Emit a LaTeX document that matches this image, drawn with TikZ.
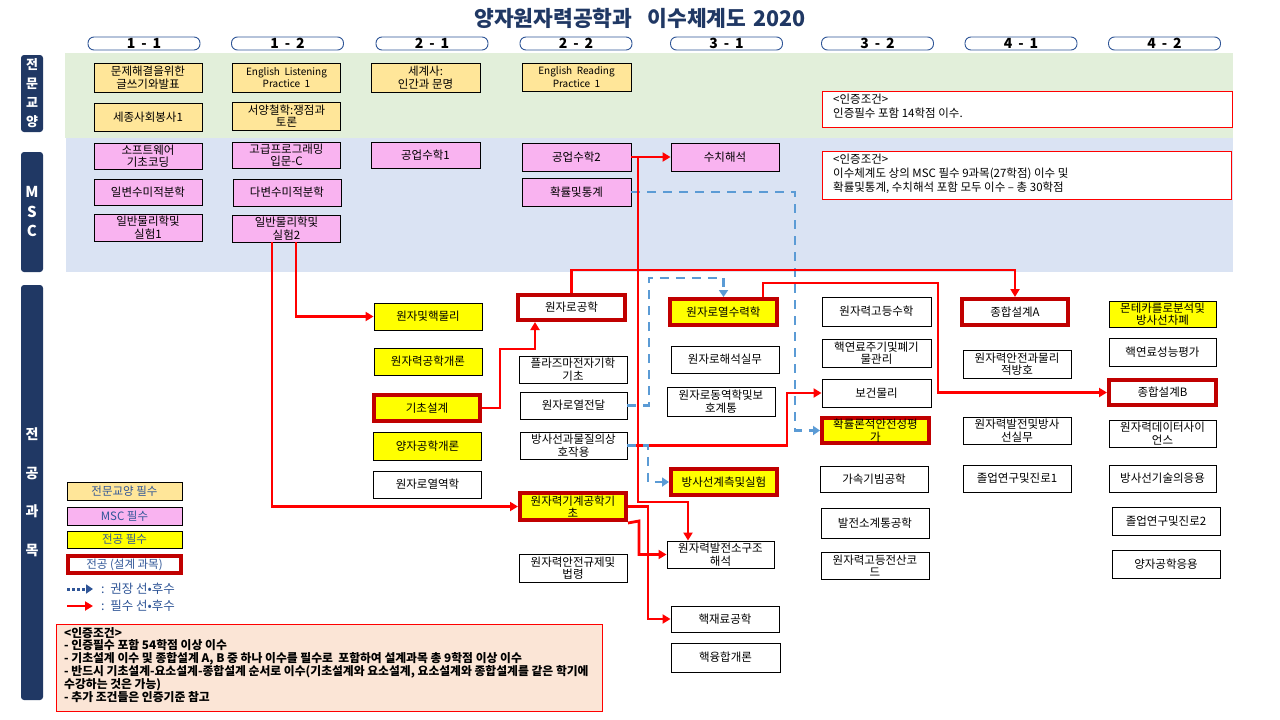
\documentclass[tikz,border=0pt]{standalone}
\usepackage{fontspec}
\setmainfont{Noto Sans CJK KR}
\usetikzlibrary{arrows.meta}
\definecolor{navy}{HTML}{203864}
\definecolor{pillc}{HTML}{2F5597}
\definecolor{legblue}{HTML}{2F5597}
\definecolor{cgreen}{HTML}{E2EFDA}
\definecolor{cblue}{HTML}{DAE3F3}
\definecolor{cor}{HTML}{FFE699}
\definecolor{cpink}{HTML}{F9B3F0}
\definecolor{cyel}{HTML}{FFFF00}
\definecolor{dred}{HTML}{C00000}
\definecolor{ared}{HTML}{FF0000}
\definecolor{dblue}{HTML}{5B9BD5}
\definecolor{notef}{HTML}{FBE5D6}
\tikzset{
 box/.style={draw=black, line width=0.9pt, minimum width=108pt, minimum height=27pt, inner sep=0pt, align=center, font=\fontsize{11.5}{12.5}\selectfont},
 dbox/.style={box, draw=dred, line width=4pt, minimum width=106pt, minimum height=26pt},
 lab/.style={fill=navy, rounded corners=3pt, minimum width=22pt, inner sep=0pt, text=white, align=center},
 pill/.style={draw=pillc, line width=0.9pt, fill=white, rounded corners=6pt, minimum width=112pt, minimum height=13pt, inner sep=0pt, text height=10pt, text depth=0pt, font=\fontsize{14}{14}\selectfont\bfseries},
 reqarr/.style={draw=ared, line width=2.8pt, -{Triangle[length=8pt,width=9pt]}},
 recarr/.style={draw=dblue, line width=2.4pt, dash pattern=on 9pt off 7pt, -{Triangle[length=7pt,width=9pt]}},
 cond/.style={draw=ared, line width=0.9pt, fill=white, anchor=north west, inner sep=0pt},
 condtxt/.style={anchor=north west, align=left, inner sep=0pt, font=\fontsize{11.5}{14}\selectfont},
 legtxt/.style={text=legblue, font=\fontsize{11.5}{12}\selectfont},
 engtxt/.style={font=\fontsize{10}{12.5}\selectfont}
}
\begin{document}
\begin{tikzpicture}[x=1pt,y=-1pt]
\useasboundingbox (0,0) rectangle (1280,720);
\fill[white] (0,0) rectangle (1280,720);
% bands
\fill[cgreen] (65,53) rectangle (1233,138);
\fill[cblue] (66,138) rectangle (1233,272);
% title
\node[text=navy, font=\fontsize{21.5}{23}\selectfont\bfseries, inner sep=0pt] (title) at (640,18) {양자원자력공학과\hspace{15pt}이수체계도\hspace{7pt}2020};
% semester pills
\node[pill] (h11) at (144,43.5) {1\hspace{6pt}-\hspace{6pt}1};
\node[pill] (h12) at (287.5,43.5) {1\hspace{6pt}-\hspace{6pt}2};
\node[pill] (h21) at (432,43.5) {2\hspace{6pt}-\hspace{6pt}1};
\node[pill] (h22) at (576,43.5) {2\hspace{6pt}-\hspace{6pt}2};
\node[pill] (h31) at (726.5,43.5) {3\hspace{6pt}-\hspace{6pt}1};
\node[pill] (h32) at (877.5,43.5) {3\hspace{6pt}-\hspace{6pt}2};
\node[pill] (h41) at (1021,43.5) {4\hspace{6pt}-\hspace{6pt}1};
\node[pill] (h42) at (1164.5,43.5) {4\hspace{6pt}-\hspace{6pt}2};
% side labels
\node[lab, minimum height=77pt, font=\fontsize{13}{19}\selectfont\bfseries] (s1) at (32,93.5) {전\\문\\교\\양};
\node[lab, minimum height=120pt, font=\fontsize{15}{19.5}\selectfont\bfseries] (s2) at (32,212) {M\\S\\C};
\node[lab, minimum height=415pt, font=\fontsize{14}{38.5}\selectfont\bfseries] (s3) at (32,492.5) {전\\공\\과\\목};
% general education
\node[box, fill=cor, minimum height=29pt] (g1) at (148,77.5) {문제해결을위한\\글쓰기와발표};
\node[box, fill=cor, minimum height=28pt] (g2) at (148,117) {세종사회봉사1};
\node[box, fill=cor, minimum height=29pt, engtxt] (g3) at (286.5,77.5) {English\ \ Listening\\Practice\ \ 1};
\node[box, fill=cor, minimum height=28pt] (g4) at (286.5,116) {서양철학:쟁점과\\토론};
\node[box, fill=cor, minimum width=109pt, minimum height=29pt] (g5) at (425.5,77.5) {세계사:\\인간과 문명};
\node[box, fill=cor, minimum width=109pt, minimum height=28pt, engtxt] (g6) at (576.5,77) {English\ \ Reading\\Practice\ \ 1};
% MSC
\node[box, fill=cpink, minimum height=26pt] (m1) at (148,156) {소프트웨어\\기초코딩};
\node[box, fill=cpink, minimum height=26pt] (m2) at (148,192) {일변수미적분학};
\node[box, fill=cpink] (m3) at (148,227.5) {일반물리학및\\실험1};
\node[box, fill=cpink, minimum height=26pt] (m4) at (286.5,155) {고급프로그래밍\\입문-C};
\node[box, fill=cpink] (m5) at (287,192.5) {다변수미적분학};
\node[box, fill=cpink] (m6) at (286.5,228.5) {일반물리학및\\실험2};
\node[box, fill=cpink, minimum width=109pt, minimum height=26pt] (m7) at (425.5,155) {공업수학1};
\node[box, fill=cpink, minimum width=109pt, minimum height=28pt] (gs2) at (576.5,157) {공업수학2};
\node[box, fill=cpink, minimum width=109pt, minimum height=28pt] (pr) at (576.5,192) {확률및통계};
\node[box, fill=cpink, minimum height=28pt] (sc) at (725,157) {수치해석};
% condition notes
\node[cond, minimum width=410pt, minimum height=36pt] (n1) at (822,91) {};
\node[condtxt] (n1t) at (833,94) {<인증조건>\\인증필수 포함 14학점 이수.};
\node[cond, minimum width=409pt, minimum height=48pt] (n2) at (822,151) {};
\node[condtxt] (n2t) at (833,154) {<인증조건>\\이수체계도 상의 MSC 필수 9과목(27학점) 이수 및\\확률및통계, 수치해석 포함 모두 이수 – 총 30학점};
% major 2-1
\node[box, fill=cyel] (a1) at (428,316.5) {원자및핵물리};
\node[box, fill=cyel] (a2) at (428,361.5) {원자력공학개론};
\node[dbox, fill=cyel] (a3) at (427,408) {기초설계};
\node[box, fill=cyel, minimum height=28pt] (a4) at (427.5,446) {양자공학개론};
\node[box] (a5) at (427.5,484.5) {원자로열역학};
% 2-2
\node[dbox, minimum height=25pt, minimum width=107pt] (b1) at (571.5,307.5) {원자로공학};
\node[box] (b2) at (573,369.5) {플라즈마전자기학\\기초};
\node[box, minimum width=107pt] (b3) at (573.5,405.5) {원자로열전달};
\node[box, minimum width=107pt] (b4) at (573.5,445.5) {방사선과물질의상\\호작용};
\node[dbox, fill=cyel, minimum height=27pt] (b5) at (573,506.5) {원자력기계공학기\\초};
\node[box, minimum height=28pt] (b6) at (573,568) {원자력안전규제및\\법령};
% 3-1
\node[dbox, fill=cyel, minimum width=107pt] (c1) at (723.5,312) {원자로열수력학};
\node[box] (c2) at (725,359.5) {원자로해석실무};
\node[box, minimum height=29pt] (c3) at (721,401.5) {원자로동역학및보\\호계통};
\node[dbox, fill=cyel] (c4) at (724,482) {방사선계측및실험};
\node[box, minimum width=107pt] (c5) at (720.5,554.5) {원자력발전소구조\\해석};
\node[box, minimum height=26pt] (c6) at (725,619) {핵재료공학};
\node[box, minimum width=109pt, minimum height=29pt] (c7) at (725.5,657.5) {핵융합개론};
% 3-2
\node[box, minimum width=109pt, minimum height=29pt] (d1) at (876.5,311.5) {원자력고등수학};
\node[box, minimum width=109pt, minimum height=28pt] (d2) at (876.5,353) {핵연료주기및폐기\\물관리};
\node[box, minimum width=109pt, minimum height=28pt] (d3) at (876.5,393) {보건물리};
\node[dbox, fill=cyel, minimum width=107pt, minimum height=25pt] (d4) at (875.5,430.5) {확률론적안전성평\\가};
\node[box, minimum height=26pt] (d5) at (874,479) {가속기빔공학};
\node[box, minimum height=30pt] (d6) at (875,523) {발전소계통공학};
\node[box] (d7) at (875,565.5) {원자력고등전산코\\드};
% 4-1
\node[dbox] (e1) at (1015,312) {종합설계A};
\node[box, minimum height=28pt] (e2) at (1017,364) {원자력안전과물리\\적방호};
\node[box] (e3) at (1017,430.5) {원자력발전및방사\\선실무};
\node[box] (e4) at (1017,478.5) {졸업연구및진로1};
% 4-2
\node[box, fill=cyel, minimum width=107pt, minimum height=26pt] (f1) at (1162.5,314) {몬테카를로분석및\\방사선차폐};
\node[box, minimum width=107pt, minimum height=28pt] (f2) at (1162.5,352) {핵연료성능평가};
\node[dbox, minimum width=107pt, minimum height=25pt] (f3) at (1162.5,392.5) {종합설계B};
\node[box, minimum width=107pt] (f4) at (1162.5,433.5) {원자력데이터사이\\언스};
\node[box, minimum width=107pt] (f5) at (1162.5,478.5) {방사선기술의응용};
\node[box, minimum height=28pt] (f6) at (1166,521) {졸업연구및진로2};
\node[box, minimum height=28pt] (f7) at (1166,564) {양자공학응용};
% recommended (dashed) connectors
\draw[recarr] (pr.east) -- (795,192) -- (795,430.5) -- (d4.west);
\draw[recarr] (b3.east) -- (649,405.5) -- (649,278) -- (723.5,278) -- (c1.north);
% required connectors
\draw[reqarr] (gs2.east) -- (sc.west);
\draw[reqarr] (gs2.east) -- (638,157) -- (638,502) -- (688,502) -- ([xshift=-32.5pt]c5.north);
\draw[reqarr] (b1.north) -- (571.5,270) -- (1015,270) -- (e1.north);
\draw[reqarr] ([xshift=39.5pt]c1.north) -- (763,283) -- (938,283) -- (938,392.5) -- (f3.west);
\draw[reqarr] (a3.east) -- (500,408) -- (500,349) -- (535,349) -- ([xshift=-36.5pt]b1.south);
\draw[reqarr] ([xshift=9.5pt]m6.south) -- (296,316.5) -- (a1.west);
\draw[reqarr] ([xshift=-14.5pt]m6.south) -- (272,506.5) -- (b5.west);
\draw[reqarr] (b4.east) -- (787,445.5) -- (787,393) -- (d3.west);
\draw[reqarr] (b5.east) -- (648,506.5) -- (648,619) -- (c6.west);
\draw[reqarr] ([yshift=-1pt]b5.south east) -- (639,521) -- (639,554.5) -- (c5.west);
\draw[recarr] (b4.east) -- (648,445.5) -- (648,482) -- (c4.west);
% legend
\node[box, fill=cor, minimum width=115pt, minimum height=18pt, legtxt] (l1) at (124.5,491) {전문교양 필수};
\node[box, fill=cpink, minimum width=115pt, minimum height=18pt, legtxt] (l2) at (124.5,516) {MSC 필수};
\node[box, fill=cyel, minimum width=115pt, minimum height=17pt, legtxt] (l3) at (124.5,539.5) {전공 필수};
\node[dbox, minimum width=113pt, minimum height=17pt, legtxt] (l4) at (124.5,564.5) {전공 (설계 과목)};
\coordinate (ld1) at (67,589);
\coordinate (ld2) at (93,589);
\draw[draw=legblue, line width=3pt, dash pattern=on 2.5pt off 2.5pt, -{Triangle[length=7pt,width=9pt]}] (ld1) -- (ld2);
\node[anchor=west, inner sep=0pt, text=legblue, font=\fontsize{12.5}{13}\selectfont] (lt1) at (101,589) {:\ \ 권장 선•후수};
\coordinate (lr1) at (67,606);
\coordinate (lr2) at (93,606);
\draw[reqarr] (lr1) -- (lr2);
\node[anchor=west, inner sep=0pt, text=legblue, font=\fontsize{12.5}{13}\selectfont] (lt2) at (101,606) {:\ \ 필수 선•후수};
% bottom note
\node[draw=ared, line width=0.9pt, fill=notef, anchor=north west, inner sep=0pt, minimum width=546pt, minimum height=87pt] (note) at (56,624) {};
\node[anchor=north west, align=left, inner sep=0pt, font=\fontsize{11.8}{12.8}\selectfont\bfseries] (notet) at (64,627) {<인증조건>\\- 인증필수 포함 54학점 이상 이수\\- 기초설계 이수 및 종합설계 A, B 중 하나 이수를 필수로\ \ 포함하여 설계과목 총 9학점 이상 이수\\- 반드시 기초설계-요소설계-종합설계 순서로 이수(기초설계와 요소설계, 요소설계와 종합설계를 같은 학기에\\수강하는 것은 가능)\\- 추가 조건들은 인증기준 참고};
\end{tikzpicture}
\end{document}
